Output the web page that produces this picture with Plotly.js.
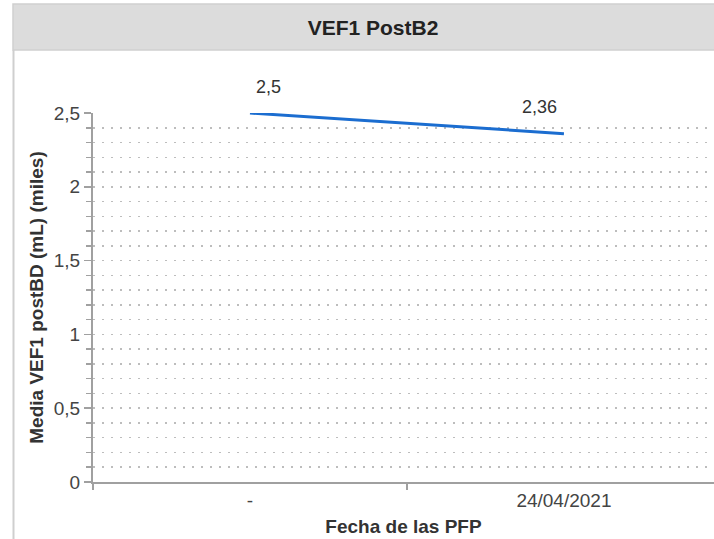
<!DOCTYPE html>
<html>
<head>
<meta charset="utf-8">
<script src="https://cdn.plot.ly/plotly-3.0.1.min.js"></script>
<style>
  html, body { margin: 0; padding: 0; background: #ffffff; }
  #chart { width: 714px; height: 539px; }
</style>
</head>
<body>
<div id="chart"></div>
<script>
// ---- data ----
const categories = ["-", "24/04/2021"];
const values = [2.5, 2.36];
const labelTexts = ["2,5", "2,36"];
const yTickVals = [0, 0.5, 1, 1.5, 2, 2.5];
const yTickText = ["0", "0,5", "1", "1,5", "2", "2,5"];
const chartTitle = "VEF1 PostB2";
const xTitle = "Fecha de las PFP";
const yTitle = "Media VEF1 postBD (mL) (miles)";

// ---- layout geometry (pixels) ----
const W = 714, H = 539;
const L = 93, R = 0, T = 113, B = 57;
const plotW = W - L - R, plotH = H - T - B;
const px2paperX = px => (px - L) / plotW;
const py2paperY = py => (H - B - py) / plotH;
const FONT = "Liberation Sans, Arial, Helvetica, sans-serif";

const trace = {
  type: "scatter",
  mode: "lines",
  x: categories,
  y: values,
  line: { color: "#1b6dd0", width: 3 },
  hoverinfo: "x+y",
  showlegend: false,
  cliponaxis: false
};

const labelShifts = [[19, 26], [-24, 27]];
const annotations = categories.map((c, i) => ({
  x: c, y: values[i], xref: "x", yref: "y",
  text: labelTexts[i], showarrow: false,
  xshift: labelShifts[i][0], yshift: labelShifts[i][1],
  font: { family: FONT, size: 18, color: "#333333" }
}));

const layout = {
  width: W, height: H,
  margin: { l: L, r: R, t: T, b: B, pad: 0 },
  paper_bgcolor: "#ffffff",
  plot_bgcolor: "#ffffff",
  separators: ",.",
  font: { family: FONT, size: 18, color: "#444444" },
  title: {
    text: "<b>" + chartTitle + "</b>",
    x: 373 / W, xref: "container", xanchor: "center",
    y: 1 - 28 / H, yref: "container", yanchor: "middle",
    font: { family: FONT, size: 21, color: "#222222" }
  },
  xaxis: {
    type: "category",
    range: [-0.5, 1.478],
    showline: true, linecolor: "#a0a0a0", linewidth: 2,
    ticks: "outside", tickson: "boundaries", ticklen: 6, tickcolor: "#a0a0a0", tickwidth: 1.5,
    showgrid: false, zeroline: false,
    tickfont: { family: FONT, size: 19, color: "#444444" },
    title: { text: "<b>" + xTitle + "</b>", font: { family: FONT, size: 19, color: "#333333" }, standoff: 10 },
    fixedrange: true
  },
  yaxis: {
    range: [0, 2.5],
    tickvals: yTickVals,
    ticktext: yTickText,
    showline: true, linecolor: "#a0a0a0", linewidth: 2,
    ticks: "outside", ticklen: 7, tickcolor: "#a0a0a0", tickwidth: 1.5,
    showgrid: true, gridcolor: "#bdbdbd", gridwidth: 1.5, griddash: "1.5px,7.5px",
    zeroline: false,
    minor: {
      dtick: 0.1, ticks: "outside", ticklen: 5, tickcolor: "#a0a0a0", tickwidth: 1.5,
      showgrid: true, gridcolor: "#bdbdbd", gridwidth: 1.5, griddash: "1.5px,7.5px"
    },
    tickfont: { family: FONT, size: 19, color: "#444444" },
    title: { text: "<b>" + yTitle + "</b>", font: { family: FONT, size: 19, color: "#333333" }, standoff: 5 },
    fixedrange: true
  },
  annotations: annotations,
  shapes: [
    { type: "rect", xref: "paper", yref: "paper", layer: "below",
      x0: px2paperX(13), x1: 1.01, y0: py2paperY(50), y1: py2paperY(4),
      fillcolor: "#dcdcdc", line: { color: "#d0d0d0", width: 1.5 } },
    { type: "line", xref: "paper", yref: "paper", layer: "below",
      x0: px2paperX(13.5), x1: px2paperX(13.5), y0: py2paperY(50), y1: py2paperY(545),
      line: { color: "#cfcfcf", width: 2 } }
  ]
};

Plotly.newPlot("chart", [trace], layout, { displayModeBar: false, responsive: false, staticPlot: true });
</script>
</body>
</html>
